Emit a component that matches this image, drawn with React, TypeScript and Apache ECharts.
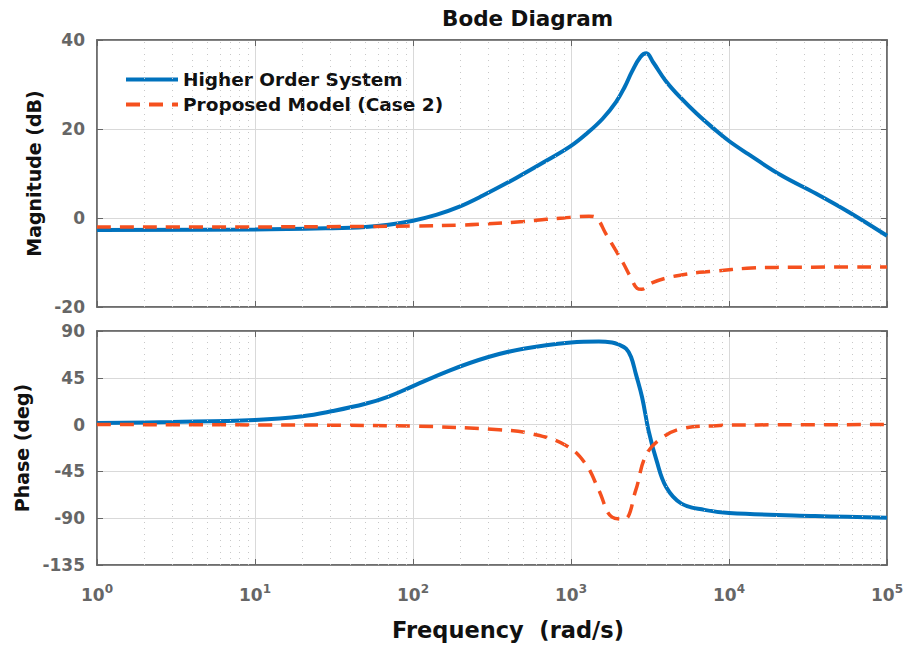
import React, { useEffect, useRef } from "react";
import * as echarts from "echarts";

// Frequency (rad/s) and values
const magHighFreq = [1, 10, 30, 50, 70, 100, 140, 195, 275, 450, 725, 1000, 1260, 1585, 1930, 2190, 2430, 2750, 3000, 3310, 3980, 5010, 6310, 7940, 10000, 13180, 21380, 35480, 57540, 100000];
const magHighVals = [-2.7, -2.6, -2.3, -2.0, -1.5, -0.6, 0.7, 2.5, 5.0, 9, 13.2, 16.2, 19, 22.3, 26.1, 29.5, 32.9, 36.2, 37, 35, 30.8, 26.8, 23.3, 20.2, 17.3, 14.4, 9.6, 5.5, 1.3, -4];

const magModelFreq = [1, 10, 50, 100, 200, 300, 500, 700, 900, 1100, 1300, 1450, 1660, 1900, 2130, 2400, 2620, 2800, 3000, 3250, 4000, 5000, 6500, 8300, 13000, 20000, 100000];
const magModelVals = [-2, -2, -1.9, -1.8, -1.6, -1.3, -0.8, -0.3, 0, 0.3, 0.4, 0, -3.5, -7, -10, -13.5, -15.8, -16, -15.5, -14.6, -13.5, -12.8, -12.2, -11.9, -11.3, -11.1, -11];

const phHighFreq = [1, 3, 10, 20, 31, 50, 70, 100, 170, 300, 500, 1000, 1500, 1820, 2000, 2230, 2400, 2570, 2820, 3100, 3470, 4000, 5000, 7000, 10000, 35000, 100000];
const phHighVals = [1.5, 2.5, 4.5, 8, 13, 20, 27, 37, 52, 65, 73, 79, 80, 79, 77, 73, 65, 49, 26, -6, -34, -60, -76, -82, -85, -88, -89.5];

const phModelFreq = [1, 10, 100, 350, 570, 930, 1240, 1500, 1820, 2170, 2570, 2950, 3600, 5000, 8300, 15000, 100000];
const phModelVals = [0, -0.3, -1.5, -5, -9, -20, -38, -63, -89, -91, -63, -31, -15, -4, -1, -0.3, 0];

const minorFreqs = [2, 3, 4, 5, 6, 7, 8, 9, 20, 30, 40, 50, 60, 70, 80, 90, 200, 300, 400, 500, 600, 700, 800, 900, 2000, 3000, 4000, 5000, 6000, 7000, 8000, 9000, 20000, 30000, 40000, 50000, 60000, 70000, 80000, 90000];

const seriesNames = ["Higher Order System", "Proposed Model (Case 2)"];
const magTicks = { min: -20, max: 40, interval: 20 };
const phTicks = { min: -135, max: 90, interval: 45 };

const FONT = "DejaVu Sans";
const BLUE = "#0072BD";
const RED = "#F5501E";

const zip = (a: number[], b: number[]) => a.map((x, i) => [x, b[i]]);

export default function App() {
  const ref = useRef<HTMLDivElement>(null);
  useEffect(() => {
    document.body.style.margin = "0";
    const chart = echarts.init(ref.current!, undefined, { renderer: "svg" });
    const grids = [
      { left: 97, top: 40, width: 790, height: 267 },
      { left: 97, top: 331, width: 790, height: 234 },
    ];
    const xAxisBase = (gi: number, showLabel: boolean, position = "bottom", mirror = false) => ({
      type: "log",
      logBase: 10,
      gridIndex: gi,
      position,
      min: 1,
      max: 100000,
      axisLine: { show: true, onZero: false, lineStyle: { color: "#666", width: 1.5 } },
      axisTick: { show: true, inside: true, length: 6, lineStyle: { color: "#666" } },
      splitLine: { show: !mirror, lineStyle: { color: "#d9d9d9", width: 1 } },
      axisLabel: showLabel
        ? {
            show: true,
            margin: 18,
            formatter: (v: number) => `{b|10}{s|${Math.round(Math.log10(v))}}`,
            rich: {
              b: { fontFamily: FONT, fontSize: 17, fontWeight: "bold", color: "#666" },
              s: { fontFamily: FONT, fontSize: 12, fontWeight: "bold", color: "#666", verticalAlign: "bottom", padding: [0, 0, 12, 0] },
            },
          }
        : { show: false },
    });
    const yAxisBase = (gi: number, t: any, name: string, gap: number) => ({
      type: "value",
      gridIndex: gi,
      min: t.min,
      max: t.max,
      interval: t.interval,
      name,
      nameLocation: "middle",
      nameGap: gap,
      nameTextStyle: { fontFamily: FONT, fontSize: 19, fontWeight: "bold", color: "#111" },
      axisLine: { show: true, lineStyle: { color: "#666", width: 1.5 } },
      axisTick: { show: true, inside: true, length: 6, lineStyle: { color: "#666" } },
      splitLine: { show: true, lineStyle: { color: "#d9d9d9", width: 1 } },
      axisLabel: { margin: 12, fontFamily: FONT, fontSize: 17, fontWeight: "bold", color: "#666" },
    });
    const yMirror = (gi: number, t: any) => ({
      type: "value",
      gridIndex: gi,
      position: "right",
      min: t.min,
      max: t.max,
      interval: t.interval,
      axisLine: { show: true, lineStyle: { color: "#666", width: 1.5 } },
      axisTick: { show: true, inside: true, length: 6, lineStyle: { color: "#666" } },
      splitLine: { show: false },
      axisLabel: { show: false },
    });
    const minorLines = (xi: number, yi: number) => ({
      type: "line",
      xAxisIndex: xi,
      yAxisIndex: yi,
      data: [],
      silent: true,
      markLine: {
        silent: true,
        symbol: ["none", "none"],
        label: { show: false },
        lineStyle: { type: [1, 5], color: "#c8c8c8", width: 1 },
        data: minorFreqs.map((f) => ({ xAxis: f })),
        animation: false,
      },
    });
    const lineSeries = (name: string, xi: number, d: number[][], color: string, dashed: boolean) => ({
      name,
      type: "line",
      xAxisIndex: xi,
      yAxisIndex: xi,
      data: d,
      symbol: "none",
      smooth: 0.4,
      lineStyle: { color, width: dashed ? 3.5 : 4, type: dashed ? [14, 9] : "solid" },
      itemStyle: { color },
      z: dashed ? 4 : 3,
    });
    chart.setOption({
      animation: false,
      backgroundColor: "#fff",
      grid: grids.map((g) => ({ ...g, show: true, borderColor: "#666", borderWidth: 1.5, backgroundColor: "transparent" })),
      xAxis: [
        xAxisBase(0, false),
        xAxisBase(1, true),
        xAxisBase(0, false, "top", true),
        xAxisBase(1, false, "top", true),
      ],
      yAxis: [
        yAxisBase(0, magTicks, "Magnitude (dB)", 47),
        yAxisBase(1, phTicks, "Phase (deg)", 64),
        yMirror(0, magTicks),
        yMirror(1, phTicks),
      ],
      legend: {
        data: seriesNames,
        left: 124,
        top: 70,
        padding: 0,
        orient: "vertical",
        itemWidth: 52,
        itemHeight: 14,
        itemGap: 6,
        itemStyle: { opacity: 0 },
        lineStyle: { width: 4 },
        backgroundColor: "transparent",
        textStyle: { fontFamily: FONT, fontSize: 18.5, fontWeight: "bold", color: "#111" },
      },
      graphic: [
        {
          type: "text",
          left: 442,
          top: 7,
          style: { text: "Bode Diagram", fontFamily: FONT, fontSize: 21.5, fontWeight: "bold", fill: "#111" },
        },
        {
          type: "text",
          left: 392,
          top: 618,
          style: { text: "Frequency  (rad/s)", fontFamily: FONT, fontSize: 22.5, fontWeight: "bold", fill: "#111" },
        },
      ],
      series: [
        minorLines(0, 0),
        minorLines(1, 1),
        lineSeries(seriesNames[0], 0, zip(magHighFreq, magHighVals), BLUE, false),
        lineSeries(seriesNames[1], 0, zip(magModelFreq, magModelVals), RED, true),
        lineSeries(seriesNames[0], 1, zip(phHighFreq, phHighVals), BLUE, false),
        lineSeries(seriesNames[1], 1, zip(phModelFreq, phModelVals), RED, true),
      ],
    });
    return () => chart.dispose();
  }, []);
  return <div ref={ref} style={{ width: 908, height: 648 }} />;
}
